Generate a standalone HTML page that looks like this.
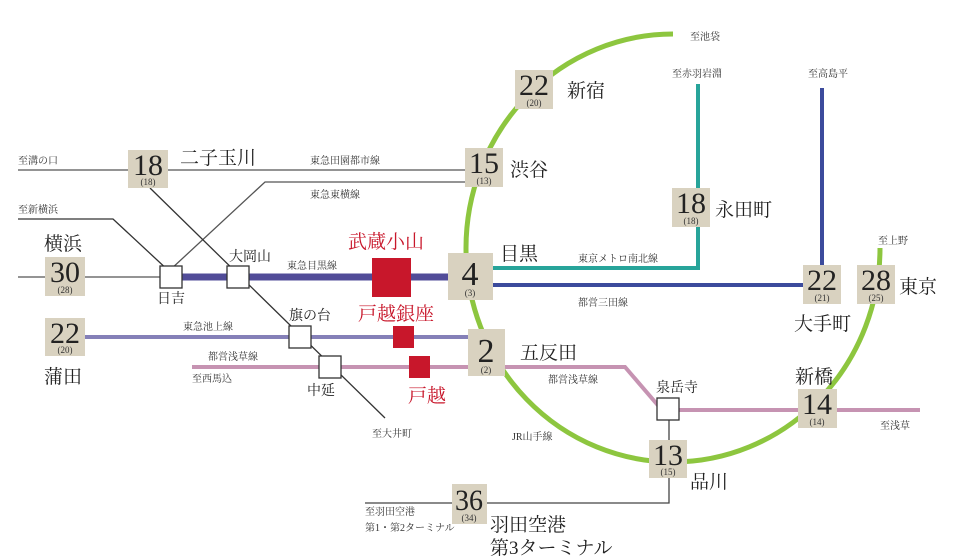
<!DOCTYPE html>
<html><head><meta charset="utf-8"><style>
body{margin:0;background:#fff}
svg{display:block}
.n{font-family:"Liberation Serif","Noto Serif CJK SC",serif;fill:#222;text-anchor:middle}
.s{font-family:"Liberation Serif","Noto Serif CJK SC",serif;font-size:9px;fill:#333;text-anchor:middle}
.st{font-family:"Liberation Serif","Noto Serif CJK JP","Noto Serif CJK SC",serif;font-size:19px;fill:#222}
.sm{font-family:"Liberation Serif","Noto Serif CJK SC",serif;font-size:10px;fill:#333}
.r{fill:#c8172b}
</style></head><body>
<svg width="980" height="559" viewBox="0 0 980 559" xmlns="http://www.w3.org/2000/svg">
<g fill="none">
<path d="M18 170H470" stroke="#555" stroke-width="1.3"/>
<path d="M470 182H265L170 270" stroke="#555" stroke-width="1.3"/>
<path d="M18 219H113L170 272" stroke="#333" stroke-width="1.3"/>
<path d="M150 188L385 418" stroke="#333" stroke-width="1.3"/>
<path d="M18 277H165" stroke="#555" stroke-width="1.3"/>
<path d="M669 420V503H365" stroke="#444" stroke-width="1.3"/>
<path d="M673 34A207 214 0 1 0 880 248" stroke="#8dc63f" stroke-width="5"/>
<path d="M182 277H450" stroke="#514c98" stroke-width="7"/>
<path d="M85 337H470" stroke="#8580b8" stroke-width="4"/>
<path d="M192 367H470M505 367H625L662 410H920" stroke="#c693b2" stroke-width="4"/>
<path d="M493 268H698V84" stroke="#27a49a" stroke-width="4"/>
<path d="M493 285H822V88" stroke="#3c4b9c" stroke-width="4"/>
</g>
<g fill="#fff" stroke="#333" stroke-width="1.3">
<rect x="160" y="266" width="22" height="22"/>
<rect x="227" y="266" width="22" height="22"/>
<rect x="289" y="326" width="22" height="22"/>
<rect x="319" y="356" width="22" height="22"/>
<rect x="657" y="398" width="22" height="22"/>
</g>
<rect class="r" x="372" y="258" width="39" height="39"/>
<rect class="r" x="393" y="326" width="21" height="22"/>
<rect class="r" x="409" y="356" width="21" height="22"/>
<g fill="#d9d2c0">
<rect x="515" y="70" width="38" height="39"/>
<rect x="465" y="148" width="38" height="39"/>
<rect x="128" y="150" width="40" height="38"/>
<rect x="672" y="188" width="38" height="39"/>
<rect x="45" y="257" width="40" height="39"/>
<rect x="448" y="253" width="45" height="47"/>
<rect x="803" y="265" width="38" height="39"/>
<rect x="857" y="265" width="38" height="39"/>
<rect x="45" y="318" width="40" height="38"/>
<rect x="468" y="329" width="37" height="47"/>
<rect x="798" y="389" width="39" height="39"/>
<rect x="649" y="440" width="38" height="38"/>
<rect x="452" y="484" width="35" height="40"/>
</g>
<g class="n" font-size="30">
<text x="534" y="95" textLength="30" lengthAdjust="spacingAndGlyphs">22</text><text class="s" x="534" y="106">(20)</text>
<text x="484" y="173" textLength="30" lengthAdjust="spacingAndGlyphs">15</text><text class="s" x="484" y="184">(13)</text>
<text x="148" y="175" textLength="30" lengthAdjust="spacingAndGlyphs">18</text><text class="s" x="148" y="185">(18)</text>
<text x="691" y="213" textLength="30" lengthAdjust="spacingAndGlyphs">18</text><text class="s" x="691" y="224">(18)</text>
<text x="65" y="282" textLength="30" lengthAdjust="spacingAndGlyphs">30</text><text class="s" x="65" y="293">(28)</text>
<text x="470" y="285" font-size="34">4</text><text class="s" x="470" y="296">(3)</text>
<text x="822" y="290" textLength="30" lengthAdjust="spacingAndGlyphs">22</text><text class="s" x="822" y="301">(21)</text>
<text x="876" y="290" textLength="30" lengthAdjust="spacingAndGlyphs">28</text><text class="s" x="876" y="301">(25)</text>
<text x="65" y="343" textLength="30" lengthAdjust="spacingAndGlyphs">22</text><text class="s" x="65" y="353">(20)</text>
<text x="486" y="362" font-size="34">2</text><text class="s" x="486" y="373">(2)</text>
<text x="817" y="414" textLength="30" lengthAdjust="spacingAndGlyphs">14</text><text class="s" x="817" y="425">(14)</text>
<text x="668" y="465" textLength="30" lengthAdjust="spacingAndGlyphs">13</text><text class="s" x="668" y="475">(15)</text>
<text x="469" y="510" textLength="28" lengthAdjust="spacingAndGlyphs">36</text><text class="s" x="469" y="521">(34)</text>
</g>
<g class="st">
<text x="567" y="97">新宿</text>
<text x="510" y="176">渋谷</text>
<text x="180" y="164">二子玉川</text>
<text x="715" y="216">永田町</text>
<text x="44" y="250">横浜</text>
<text x="500" y="260">目黒</text>
<text x="794" y="330">大手町</text>
<text x="899" y="293">東京</text>
<text x="44" y="383">蒲田</text>
<text x="520" y="359">五反田</text>
<text x="795" y="383">新橋</text>
<text x="690" y="488">品川</text>
<text x="490" y="531">羽田空港</text>
<text x="490" y="554">第3ターミナル</text>
</g>
<g class="st" style="font-size:14px">
<text x="157" y="303">日吉</text>
<text x="229" y="261">大岡山</text>
<text x="289" y="320">旗の台</text>
<text x="307" y="395">中延</text>
<text x="656" y="392">泉岳寺</text>
</g>
<g class="st" style="font-size:19px;fill:#c8172b">
<text x="348" y="248">武蔵小山</text>
<text x="358" y="320">戸越銀座</text>
<text x="408" y="402">戸越</text>
</g>
<g class="sm">
<text x="18" y="164">至溝の口</text>
<text x="310" y="164">東急田園都市線</text>
<text x="310" y="198">東急東横線</text>
<text x="18" y="213">至新横浜</text>
<text x="287" y="269">東急目黒線</text>
<text x="183" y="330">東急池上線</text>
<text x="208" y="360">都営浅草線</text>
<text x="192" y="382">至西馬込</text>
<text x="372" y="437">至大井町</text>
<text x="548" y="383">都営浅草線</text>
<text x="512" y="440">JR山手線</text>
<text x="880" y="429">至浅草</text>
<text x="365" y="515">至羽田空港</text>
<text x="365" y="531">第1・第2ターミナル</text>
<text x="690" y="40">至池袋</text>
<text x="672" y="77">至赤羽岩淵</text>
<text x="808" y="77">至高島平</text>
<text x="878" y="244">至上野</text>
<text x="578" y="262">東京メトロ南北線</text>
<text x="578" y="306">都営三田線</text>
</g>
</svg>
</body></html>
